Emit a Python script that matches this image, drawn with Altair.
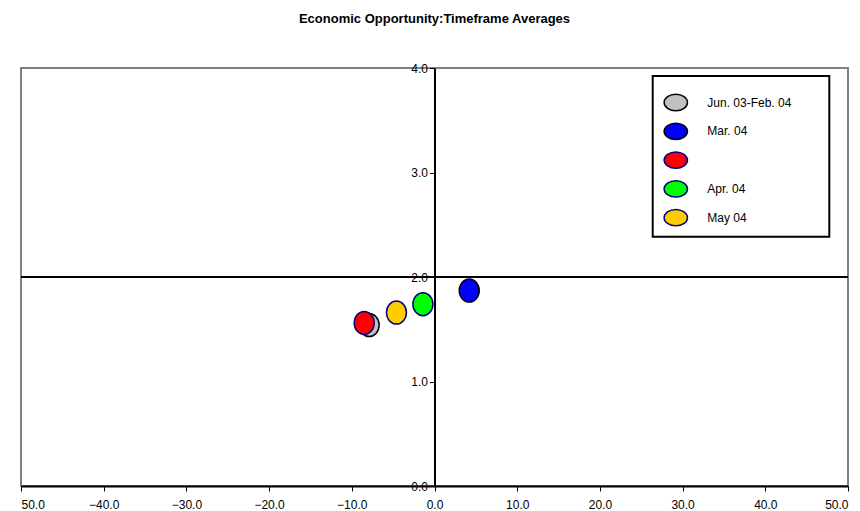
import altair as alt
import pandas as pd

# ---- data ----
series = ["Jun. 03-Feb. 04", "Mar. 04", "", "Apr. 04", "May 04"]
x_vals = [-7.9, 4.2, -8.5, -1.4, -4.6]
y_vals = [1.54, 1.87, 1.56, 1.74, 1.66]
fills = ["#C0C0C0", "#0000FF", "#FF0000", "#00FF00", "#FFCC00"]
strokes = ["#000000", "#000000", "#000080", "#000080", "#000080"]
x_ticks = [-50, -40, -30, -20, -10, 0, 10, 20, 30, 40, 50]
y_ticks = [0, 1, 2, 3, 4]
hline = [2.0]

df = pd.DataFrame({"series": series, "x": x_vals, "y": y_vals, "order": list(range(len(series)))})


def ellipse(rx, ry):
    k = 0.5523
    return (f"M {rx} 0 C {rx} {k*ry:.4f} {k*rx:.4f} {ry} 0 {ry} "
            f"C {-k*rx:.4f} {ry} {-rx} {k*ry:.4f} {-rx} 0 "
            f"C {-rx} {-k*ry:.4f} {-k*rx:.4f} {-ry} 0 {-ry} "
            f"C {k*rx:.4f} {-ry} {rx} {-k*ry:.4f} {rx} 0 Z")


FONT = "Liberation Sans"

legend = alt.Legend(
    title=None,
    orient="none",
    legendX=630.3,
    legendY=10,
    padding=12,
    rowPadding=4.8,
    symbolType=ellipse(1, 0.7),
    symbolSize=545,
    symbolStrokeWidth=1.5,
    labelFont=FONT,
    labelFontSize=12,
    labelColor="#000000",
    labelOffset=19,
    zindex=1,
)

points = alt.Chart(df).mark_point(
    filled=True, opacity=1, strokeWidth=1.5, shape=ellipse(0.87, 1), size=529
).encode(
    x=alt.X("x:Q", scale=alt.Scale(domain=[-50, 50], nice=False, zero=False),
            axis=alt.Axis(values=x_ticks, format=".1f", title=None, grid=False,
                          labelExpr="datum.value == -50 ? '50.0' : format(datum.value, '.1f')",
                          domainColor="#000000", domainWidth=2, tickColor="#000000",
                          tickSize=5, labelPadding=8, labelFont=FONT, labelFontSize=12,
                          labelColor="#000000")),
    y=alt.Y("y:Q", scale=alt.Scale(domain=[0, 4], nice=False, zero=False),
            axis=alt.Axis(values=y_ticks, format=".1f", title=None, grid=False, offset=-413.5,
                          domainColor="#000000", domainWidth=2, tickColor="#000000",
                          tickSize=5, labelPadding=2, labelFont=FONT, labelFontSize=12,
                          labelColor="#000000")),
    fill=alt.Fill("series:N", scale=alt.Scale(domain=series, range=fills), legend=legend,
                  sort=series),
    stroke=alt.Stroke("series:N", scale=alt.Scale(domain=series, range=strokes), legend=legend,
                      sort=series),
    order=alt.Order("order:Q"),
)

rule = alt.Chart(pd.DataFrame({"h": hline})).mark_rule(color="#000000", strokeWidth=2).encode(
    y=alt.Y("h:Q")
)

box = alt.Chart(pd.DataFrame({"a": [0]})).mark_rect(
    fill="#FFFFFF", stroke="#000000", strokeWidth=2
).encode(
    x=alt.value(631.7), x2=alt.value(808.3), y=alt.value(8), y2=alt.value(168.7)
)

chart = alt.layer(box, rule, points).properties(
    width=827,
    height=418,
    title=alt.Title("Economic Opportunity:Timeframe Averages", font=FONT, fontSize=13,
                    fontWeight="bold", color="#000000", anchor="middle", offset=36),
    autosize=alt.AutoSizeParams(type="none"),
    padding={"left": 13, "top": 60, "right": 4, "bottom": 30},
).configure_view(stroke="#808080", strokeWidth=2)

chart.save("out.html", embed_options={"renderer": "svg", "actions": False})
